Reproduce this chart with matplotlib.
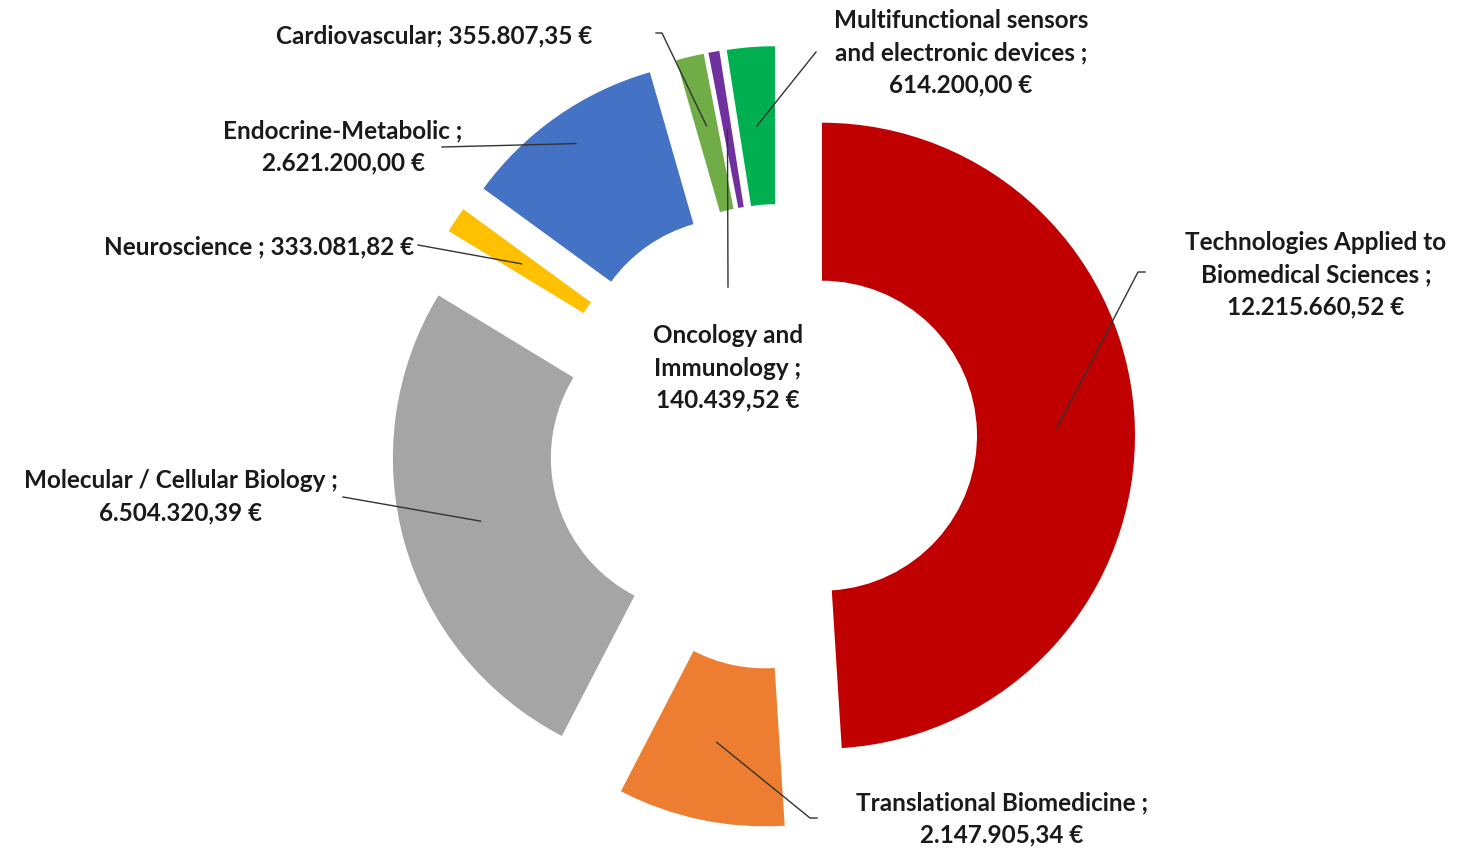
import matplotlib.pyplot as plt
import numpy as np

plt.rcParams['font.family'] = ['Lato', 'DejaVu Sans']

# data: research areas and funding (EUR), clockwise from 12 o'clock
areas = ['Technologies Applied to\nBiomedical Sciences ;',
         'Translational Biomedicine ;',
         'Molecular / Cellular Biology ;',
         'Neuroscience ;',
         'Endocrine-Metabolic ;',
         'Cardiovascular;',
         'Oncology and\nImmunology ;',
         'Multifunctional sensors\nand electronic devices ;']
funding = [12215660.52, 2147905.34, 6504320.39, 333081.82,
           2621200.00, 355807.35, 140439.52, 614200.00]
colors = ['#C00000', '#ED7D31', '#A5A5A5', '#FFC000',
          '#4472C4', '#70AD47', '#7030A0', '#00B050']

# layout (pixels, origin top-left)
W, H = 1473, 848
center = (781, 437)
radius = 313
ring = 158
explode_px = [41, 78, 78, 78, 78, 78, 78, 78]
one_line = [False, False, False, True, False, True, False, False]
label_pos = [(1316, 275), (1002, 819), (181, 497), (259, 247),
             (343, 147), (434, 36), (728, 368), (961, 53)]
# where the leader line leaves the label (with small tick if two points)
leader_start = [[(1145, 272), (1138, 272)],
                [(817, 818), (810, 818)],
                [(343, 497)],
                [(418, 245)],
                [(442, 147)],
                [(656, 33), (662, 33)],
                [(728, 287)],
                [(816, 52)]]
# how far out along the slice the leader line ends
leader_r = [235, 234, 234, 234, 280, 242, 234, 234]


def euro(v):
    s = f'{v:,.2f}'.replace(',', 'X').replace('.', ',').replace('X', '.')
    return s + ' €'


fig = plt.figure(figsize=(W / 100, H / 100), dpi=100)
ax = fig.add_axes([0, 0, 1, 1])

wedges, _ = ax.pie(funding, colors=colors, startangle=90, counterclock=False,
                   radius=radius, center=(center[0], H - center[1]),
                   explode=explode_px,
                   wedgeprops=dict(width=ring, linewidth=0))

ax.set_xlim(0, W)
ax.set_ylim(0, H)
ax.set_aspect('equal')
ax.axis('off')

for i, w in enumerate(wedges):
    txt = areas[i] + (' ' if one_line[i] else '\n') + euro(funding[i])
    lx, ly = label_pos[i]
    ax.text(lx, H - ly, txt, ha='center', va='center', fontsize=17.5,
            fontweight='bold', color='#1a1a1a', linespacing=1.48)

    th = np.deg2rad((w.theta1 + w.theta2) / 2)
    ex = w.center[0] + leader_r[i] * np.cos(th)
    ey = w.center[1] + leader_r[i] * np.sin(th)
    xs = [p[0] for p in leader_start[i]] + [ex]
    ys = [H - p[1] for p in leader_start[i]] + [ey]
    ax.plot(xs, ys, color='#333333', lw=1)

fig.savefig('out.png', dpi=100)
